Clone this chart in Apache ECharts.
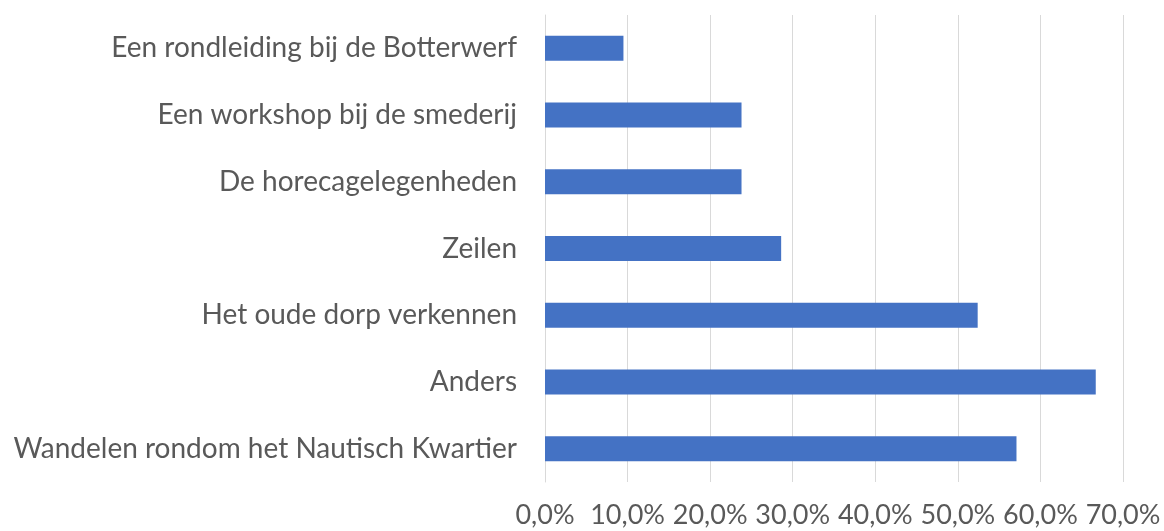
<!DOCTYPE html>
<html>
	<head>
		<meta charset="utf-8">
		<title>Activiteiten</title>
		<script src="https://cdn.jsdelivr.net/npm/echarts@6/dist/echarts.min.js"></script>
		<style>
			html, body { margin: 0; padding: 0; background: #fff; }
		</style>
	</head>
	<body>
		<div id="main" style="width: 1164px;height:531px;"></div>

		<script type="text/javascript">
			// categories, top to bottom as in the picture
			var categories = [
				'Een rondleiding bij de Botterwerf',
				'Een workshop bij de smederij',
				'De horecagelegenheden',
				'Zeilen',
				'Het oude dorp verkennen',
				'Anders',
				'Wandelen rondom het Nautisch Kwartier'
			];
			// percentages
			var values = [9.5, 23.8, 23.8, 28.6, 52.4, 66.7, 57.1];

			var textColor = '#595959';
			var font = 'Lato';

			var myChart = echarts.init(document.getElementById('main'));
			var option = {
				animation: false,
				grid: {
					left: 545,
					right: 41,
					top: 15,
					bottom: 49,
					containLabel: false,
					outerBoundsMode: 'none'
				},
				xAxis: {
					type: 'value',
					min: 0,
					max: 70,
					interval: 10,
					axisLine: { show: false },
					axisTick: { show: false },
					splitLine: { lineStyle: { color: '#d9d9d9', width: 1 } },
					axisLabel: {
						color: textColor,
						fontFamily: font,
						fontSize: 27,
						margin: 20,
						formatter: function (v) {
							return v.toFixed(1).replace('.', ',') + '%';
						}
					}
				},
				yAxis: {
					type: 'category',
					inverse: true,
					data: categories,
					axisLine: { show: true, lineStyle: { color: '#d9d9d9' } },
					axisTick: { show: false },
					axisLabel: {
						color: textColor,
						fontFamily: font,
						fontSize: 28,
						margin: 28
					}
				},
				series: [
					{
						type: 'bar',
						data: values,
						barWidth: 25,
						itemStyle: { color: '#4472c4' }
					}
				]
			};

			myChart.setOption(option);
		</script>
	</body>
</html>
